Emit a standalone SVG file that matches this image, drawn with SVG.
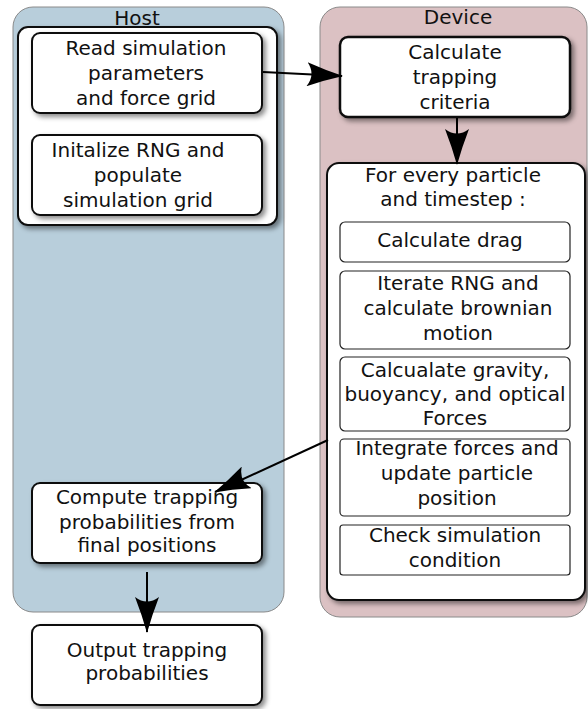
<svg xmlns="http://www.w3.org/2000/svg" width="588" height="709" viewBox="0 0 588 709">
<style>
text{font-family:"DejaVu Sans","Liberation Sans",sans-serif;font-size:20px;fill:#111;text-anchor:middle}
.panel{stroke:#8a8a8a;stroke-width:1}
.node{fill:#fff;stroke:#111;stroke-width:2}
.sub{fill:#fff;stroke:#222;stroke-width:1.2}
.conn{stroke:#000;stroke-width:2;fill:none}
</style>
<defs>
<filter id="sh" x="-10%" y="-10%" width="125%" height="130%">
<feDropShadow dx="3" dy="3" stdDeviation="2.5" flood-color="#000" flood-opacity="0.45"/>
</filter>
<marker id="ahl" markerWidth="36" markerHeight="24" refX="35" refY="12" orient="auto" markerUnits="userSpaceOnUse">
<path d="M36,12 Q18,7 0,0 Q9,12 0,24 Q18,17 36,12 Z" fill="#000"/>
</marker>
</defs>

<g id="host">
<rect class="panel" x="13" y="7" width="271" height="605" rx="20" fill="#b8cedb"/>
<text x="137" y="25">Host</text>
</g>
<g id="device">
<rect class="panel" x="320" y="7" width="267" height="610" rx="20" fill="#dbc1c3"/>
<text x="458" y="24">Device</text>
</g>

<g id="host-init-group">
<rect class="node" x="18" y="27" width="259" height="198" rx="10" filter="url(#sh)"/>
</g>
<g id="read-params">
<rect class="node" x="32" y="33" width="230" height="80" rx="8" filter="url(#sh)"/>
<text x="146" y="55">Read simulation</text>
<text x="146" y="80">parameters</text>
<text x="146" y="105">and force grid</text>
</g>
<g id="init-rng">
<rect class="node" x="32" y="135" width="230" height="80" rx="8" filter="url(#sh)"/>
<text x="138" y="157">Initalize RNG and</text>
<text x="138" y="182">populate</text>
<text x="138" y="207">simulation grid</text>
</g>

<g id="trap-criteria">
<rect class="node" x="340" y="37" width="230" height="80" rx="8" filter="url(#sh)" style="stroke-width:2.5"/>
<text x="455" y="59">Calculate</text>
<text x="455" y="84">trapping</text>
<text x="455" y="109">criteria</text>
</g>

<g id="loop">
<rect class="node" x="327" y="163" width="258" height="437" rx="12" filter="url(#sh)"/>
<text x="453" y="182">For every particle</text>
<text x="453" y="206">and timestep :</text>
</g>
<g id="drag">
<rect class="sub" x="340" y="222" width="230" height="40" rx="5"/>
<text x="450" y="247">Calculate drag</text>
</g>
<g id="brownian">
<rect class="sub" x="340" y="271" width="230" height="78" rx="5"/>
<text x="458" y="290">Iterate RNG and</text>
<text x="458" y="315">calculate brownian</text>
<text x="458" y="340">motion</text>
</g>
<g id="forces">
<rect class="sub" x="340" y="357" width="230" height="74" rx="5"/>
<text x="455" y="377">Calcualate gravity,</text>
<text x="455" y="401">buoyancy, and optical</text>
<text x="455" y="425">Forces</text>
</g>
<g id="integrate">
<rect class="sub" x="340" y="439" width="230" height="77" rx="4"/>
<text x="457" y="455">Integrate forces and</text>
<text x="457" y="480">update particle</text>
<text x="457" y="505">position</text>
</g>
<g id="check">
<rect class="sub" x="340" y="525" width="230" height="50" rx="3"/>
<text x="455" y="542">Check simulation</text>
<text x="455" y="567">condition</text>
</g>

<g id="compute-prob">
<rect class="node" x="32" y="483" width="230" height="80" rx="8" filter="url(#sh)"/>
<text x="147" y="504">Compute trapping</text>
<text x="147" y="529">probabilities from</text>
<text x="147" y="552">final positions</text>
</g>
<g id="output">
<rect class="node" x="32" y="625" width="230" height="80" rx="8" filter="url(#sh)"/>
<text x="147" y="657">Output trapping</text>
<text x="147" y="680">probabilities</text>
</g>

<g id="connectors">
<line class="conn" x1="263" y1="72" x2="342" y2="76" marker-end="url(#ahl)"/>
<line class="conn" x1="457" y1="118" x2="457" y2="164" marker-end="url(#ahl)"/>
<line class="conn" x1="328" y1="440" x2="215" y2="492" marker-end="url(#ahl)"/>
<line class="conn" x1="147" y1="572" x2="147" y2="632" marker-end="url(#ahl)"/>
</g>
</svg>
